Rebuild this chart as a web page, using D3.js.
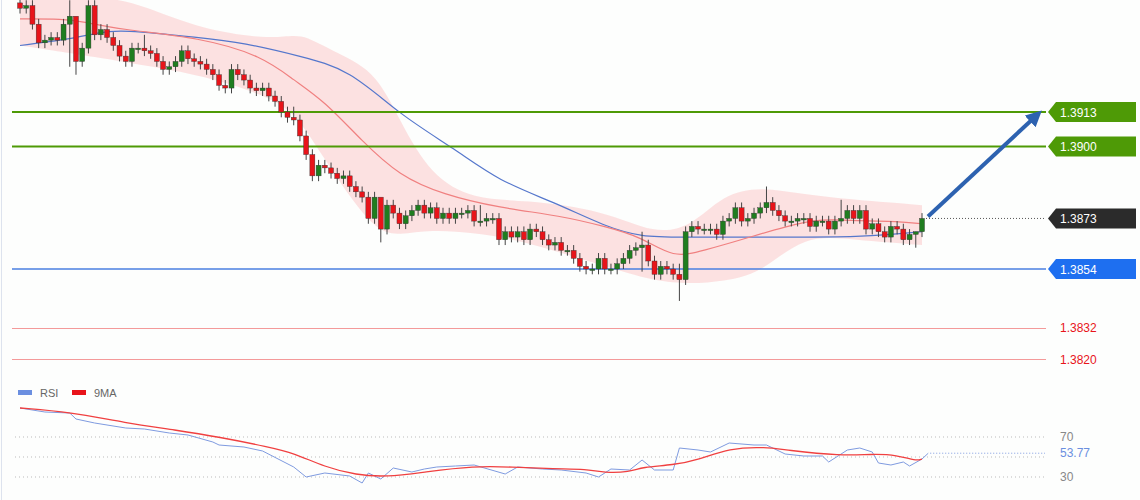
<!DOCTYPE html>
<html lang="en">
<head>
<meta charset="utf-8">
<script src="https://cdn.jsdelivr.net/npm/d3@7"></script>
<style>
  body { margin: 0; background: #fff; }
  svg { display: block; font-family: "Liberation Sans", Arial, sans-serif; }
</style>
</head>
<body>
<div id="chart"></div>
<script>
// closes of each candle (open = previous close)
const closes = [
  1.3952, 1.3953, 1.3946, 1.3939, 1.3940, 1.3941, 1.3940, 1.3946, 1.3949, 1.3932,
  1.3937, 1.3953, 1.3942, 1.3944, 1.3941, 1.3938, 1.3934, 1.3932, 1.3937, 1.3937,
  1.3936, 1.3935, 1.3932, 1.3929, 1.3930, 1.3932, 1.3936, 1.3933, 1.3932, 1.3931,
  1.3929, 1.3927, 1.3923, 1.3922, 1.3929, 1.3927, 1.3925, 1.3922, 1.3921, 1.3922,
  1.3919, 1.3917, 1.3913, 1.3911, 1.3910, 1.3904, 1.3897, 1.3889, 1.3893, 1.3892,
  1.3890, 1.3888, 1.3889, 1.3885, 1.3883, 1.3881, 1.3873, 1.3881, 1.3869, 1.3878,
  1.3875, 1.3871, 1.3874, 1.3876, 1.3878, 1.3875, 1.3877, 1.3873, 1.3875, 1.3873,
  1.3875, 1.3875, 1.3876, 1.3872, 1.3872, 1.3873, 1.3873, 1.3865, 1.3868, 1.3866,
  1.3868, 1.3865, 1.3869, 1.3868, 1.3865, 1.3863, 1.3864, 1.3861, 1.3861, 1.3858,
  1.3855, 1.3854, 1.3854, 1.3858, 1.3854, 1.3854, 1.3856, 1.3858, 1.3861, 1.3862,
  1.3863, 1.3857, 1.3852, 1.3855, 1.3854, 1.3852, 1.3850, 1.3868, 1.3870, 1.3869,
  1.3869, 1.3869, 1.3867, 1.3872, 1.3873, 1.3877, 1.3872, 1.3873, 1.3875, 1.3877,
  1.3879, 1.3876, 1.3874, 1.3872, 1.3872, 1.3873, 1.3873, 1.3870, 1.3872, 1.3872,
  1.3869, 1.3872, 1.3873, 1.3876, 1.3873, 1.3876, 1.3869, 1.3871, 1.3868, 1.3866,
  1.3870, 1.3869, 1.3865, 1.3867, 1.3868, 1.3873
];
const firstOpen = 1.3954;
// notable wicks: index -> [high, low]
const wicks = { 8: [1.3955, 1.3930], 9: [1.3941, 1.3927], 20: [1.3942, 1.3934], 44: [1.3915, 1.3908],
  58: [1.3879, 1.3864], 74: [1.3878, 1.3870], 100: [1.3868, 1.3853], 106: [1.3856, 1.3842],
  120: [1.3885, 1.3875], 132: [1.3880, 1.3870], 144: [1.3868, 1.3862] };

const maSlow = [[0,1.3938],[7,1.3940],[13,1.3943],[16,1.3944],[29,1.3941],[36,1.3939],[45,1.3934],[53,1.3929],
  [61,1.3912],[70,1.3899],[77,1.3887],[86,1.3879],[94,1.3870],[100,1.3866],[106,1.3866],[118,1.3866],
  [126,1.3866],[135,1.3866],[145,1.3868]];
const maFast = [[0,1.3948],[7,1.3948],[10,1.3947],[16,1.3944],[29,1.3941],[39,1.3934],[44,1.3925],[49,1.3917],
  [55,1.3902],[61,1.3889],[68,1.3882],[77,1.3877],[87,1.3874],[94,1.3870],[100,1.3866],[105,1.3858],
  [110,1.3861],[116,1.3865],[123,1.3870],[129,1.3873],[135,1.3872],[141,1.3872],[145,1.3871]];
const bandUpper = [[0,1.3955],[13,1.3957],[20,1.3953],[29,1.3944],[41,1.3940],[45,1.3943],[50,1.3936],[57,1.3929],
  [61,1.3910],[66,1.3889],[73,1.3880],[81,1.3880],[94,1.3876],[102,1.3867],[108,1.3870],[113,1.3882],
  [119,1.3885],[126,1.3882],[134,1.3880],[145,1.3878]];
const bandLower = [[0,1.3938],[7,1.3936],[16,1.3932],[29,1.3927],[39,1.3921],[44,1.3914],[49,1.3895],[53,1.3880],
  [58,1.3865],[65,1.3869],[77,1.3867],[87,1.3861],[94,1.3855],[100,1.3850],[106,1.3848],[116,1.3850],
  [123,1.3855],[126,1.3867],[134,1.3865],[145,1.3863]];

const rsi = [[0,99],[4,95],[8,94],[9,88],[12,84],[17,79],[20,78],[24,74],[27,72],[31,65],[32,62],[36,60],[39,56],
  [44,40],[46,30],[49,34],[53,31],[55,24],[56,34],[58,28],[60,39],[63,35],[65,38],[67,40],[70,41],[73,42],
  [78,33],[80,40],[84,38],[87,37],[91,34],[93,30],[95,38],[98,37],[100,47],[102,37],[105,37],[106,59],
  [109,57],[111,55],[114,64],[118,62],[120,62],[123,53],[126,51],[129,51],[130,45],[133,57],[135,59],
  [137,55],[138,44],[140,42],[142,45],[143,41],[145,48],[146,53.77]];
const rsiMa = [[0,99],[8,95],[17,84],[25,77],[32,70],[40,60],[44,54],[49,40],[54,32],[59,30],[65,35],[73,41],
  [79,40],[86,38],[91,38],[94,34],[98,35],[100,40],[105,42],[109,47],[114,59],[120,60],[123,57],[132,51],
  [137,53],[141,52],[144,46],[145,48]];

const resistances = [1.3913, 1.3900];
const support = 1.3854;
const lastPrice = 1.3873;
const redLevels = [1.3832, 1.3820];
const rsiLevels = [70, 50, 30];

const W = 1140, H = 500;
const svg = d3.select("#chart").append("svg").attr("width", W).attr("height", H);
svg.append("rect").attr("width", W).attr("height", H).attr("fill", "#fdfefd");
svg.append("line").attr("x1", 1.5).attr("x2", 1.5).attr("y1", 0).attr("y2", H).attr("stroke", "#dde3ee");

const x = d3.scaleLinear().domain([0, 145]).range([20, 922]);
const y = d3.scaleLinear().domain([1.3913, 1.3854]).range([112, 269]);
const yr = d3.scaleLinear().domain([70, 30]).range([437, 477]);

const main = svg.append("g");
// bollinger band
const area = d3.area().curve(d3.curveBasis)
  .x(d => x(d[0])).y0(d => y(d[1])).y1(d => y(d[2]));
const lowerAt = d3.scaleLinear().domain(bandLower.map(d => d[0])).range(bandLower.map(d => d[1]));
main.append("path")
  .datum(bandUpper.map(d => [d[0], d[1], lowerAt(d[0])]))
  .attr("d", area).attr("fill", "#fbd9d9").attr("opacity", 0.8);

const line = d3.line().curve(d3.curveBasis).x(d => x(d[0])).y(d => y(d[1]));
main.append("path").datum(maSlow).attr("d", line).attr("fill", "none").attr("stroke", "#5577cc").attr("stroke-width", 1.2);
main.append("path").datum(maFast).attr("d", line).attr("fill", "none").attr("stroke", "#f08080").attr("stroke-width", 1.2);

// horizontal levels
main.selectAll(".res").data(resistances).enter().append("line")
  .attr("x1", 12).attr("x2", 1046).attr("y1", d => y(d)).attr("y2", d => y(d))
  .attr("stroke", "#4e9a06").attr("stroke-width", 2);
main.append("line").attr("x1", 12).attr("x2", 1046).attr("y1", y(support)).attr("y2", y(support))
  .attr("stroke", "#4a7fe0").attr("stroke-width", 1.5);
main.selectAll(".red").data(redLevels).enter().append("line")
  .attr("x1", 12).attr("x2", 1046).attr("y1", d => Math.round(y(d)) + 0.5).attr("y2", d => Math.round(y(d)) + 0.5)
  .attr("stroke", "#f49a9a").attr("stroke-width", 1);
main.append("line").attr("x1", x(145) + 4).attr("x2", 1046).attr("y1", y(lastPrice)).attr("y2", y(lastPrice))
  .attr("stroke", "#555").attr("stroke-dasharray", "1,2");

// candles
const candles = closes.map((c, i) => {
  const o = i === 0 ? firstOpen : closes[i - 1];
  const w = wicks[i] || [Math.max(o, c) + 0.0002, Math.min(o, c) - 0.0002];
  return { i, o, c, h: w[0], l: w[1] };
});
const cg = main.selectAll(".candle").data(candles).enter().append("g");
cg.append("line").attr("x1", d => x(d.i)).attr("x2", d => x(d.i))
  .attr("y1", d => y(d.h)).attr("y2", d => y(d.l)).attr("stroke", "#444").attr("stroke-width", 1);
cg.append("rect").attr("x", d => x(d.i) - 2.5).attr("width", 5)
  .attr("y", d => y(Math.max(d.o, d.c)))
  .attr("height", d => Math.max(1.5, Math.abs(y(d.o) - y(d.c))))
  .attr("fill", d => d.c >= d.o ? "#1f7d1f" : "#e8141a")
  .attr("stroke", "#333").attr("stroke-width", 0.4);

// arrow
svg.append("defs").append("marker").attr("id", "ah").attr("viewBox", "0 0 10 10")
  .attr("refX", 5).attr("refY", 5).attr("markerWidth", 4).attr("markerHeight", 4).attr("orient", "auto")
  .append("path").attr("d", "M0,0L10,5L0,10z").attr("fill", "#2d62b0");
svg.append("line").attr("x1", x(145) + 6).attr("y1", y(lastPrice) - 2)
  .attr("x2", 1036).attr("y2", y(1.3913) + 4)
  .attr("stroke", "#2d62b0").attr("stroke-width", 4).attr("marker-end", "url(#ah)");

// right labels
const labels = [
  { v: resistances[0], bg: "#4e9a06", fg: "#fff" },
  { v: resistances[1], bg: "#4e9a06", fg: "#fff" },
  { v: lastPrice, bg: "#2b2b2b", fg: "#fff" },
  { v: support, bg: "#1e6ff0", fg: "#fff" },
  { v: redLevels[0], bg: null, fg: "#e8141a" },
  { v: redLevels[1], bg: null, fg: "#e8141a" }
];
const lg = svg.selectAll(".lab").data(labels).enter().append("g")
  .attr("transform", d => `translate(1048,${y(d.v)})`);
lg.filter(d => d.bg).append("path")
  .attr("d", "M0,0L8,-10H88V10H8Z").attr("fill", d => d.bg);
lg.append("text").attr("x", 12).attr("y", 4.5).attr("font-size", 12).attr("fill", d => d.fg)
  .text(d => d.v.toFixed(4));

// RSI pane
svg.selectAll(".rg").data(rsiLevels).enter().append("line")
  .attr("x1", 15).attr("x2", 1045).attr("y1", d => yr(d)).attr("y2", d => yr(d))
  .attr("stroke", "#bbb").attr("stroke-dasharray", "1,3");
svg.selectAll(".rt").data([70, 30]).enter().append("text")
  .attr("x", 1060).attr("y", d => yr(d) + 4).attr("font-size", 12).attr("fill", "#888").text(d => d);
const rline = d3.line().x(d => x(d[0])).y(d => yr(d[1]));
svg.append("path").datum(rsi).attr("d", rline).attr("fill", "none").attr("stroke", "#7f9be0").attr("stroke-width", 1);
svg.append("path").datum(rsiMa).attr("d", rline.curve(d3.curveBasis)).attr("fill", "none")
  .attr("stroke", "#f04040").attr("stroke-width", 1.3);
const lastRsi = rsi[rsi.length - 1][1];
svg.append("line").attr("x1", x(146) + 2).attr("x2", 1045).attr("y1", yr(lastRsi)).attr("y2", yr(lastRsi))
  .attr("stroke", "#7f9be0").attr("stroke-dasharray", "1,2");
svg.append("text").attr("x", 1060).attr("y", yr(lastRsi) + 4).attr("font-size", 12)
  .attr("fill", "#6b8fe0").text(lastRsi.toFixed(2));

// legend
const leg = svg.append("g").attr("transform", "translate(18,393)");
leg.append("rect").attr("width", 14).attr("height", 5).attr("y", -3).attr("fill", "#6b8fe0");
leg.append("text").attr("x", 22).attr("y", 4).attr("font-size", 11).attr("fill", "#666").text("RSI");
leg.append("rect").attr("x", 54).attr("width", 14).attr("height", 5).attr("y", -3).attr("fill", "#e8141a");
leg.append("text").attr("x", 76).attr("y", 4).attr("font-size", 11).attr("fill", "#666").text("9MA");
</script>
</body>
</html>
